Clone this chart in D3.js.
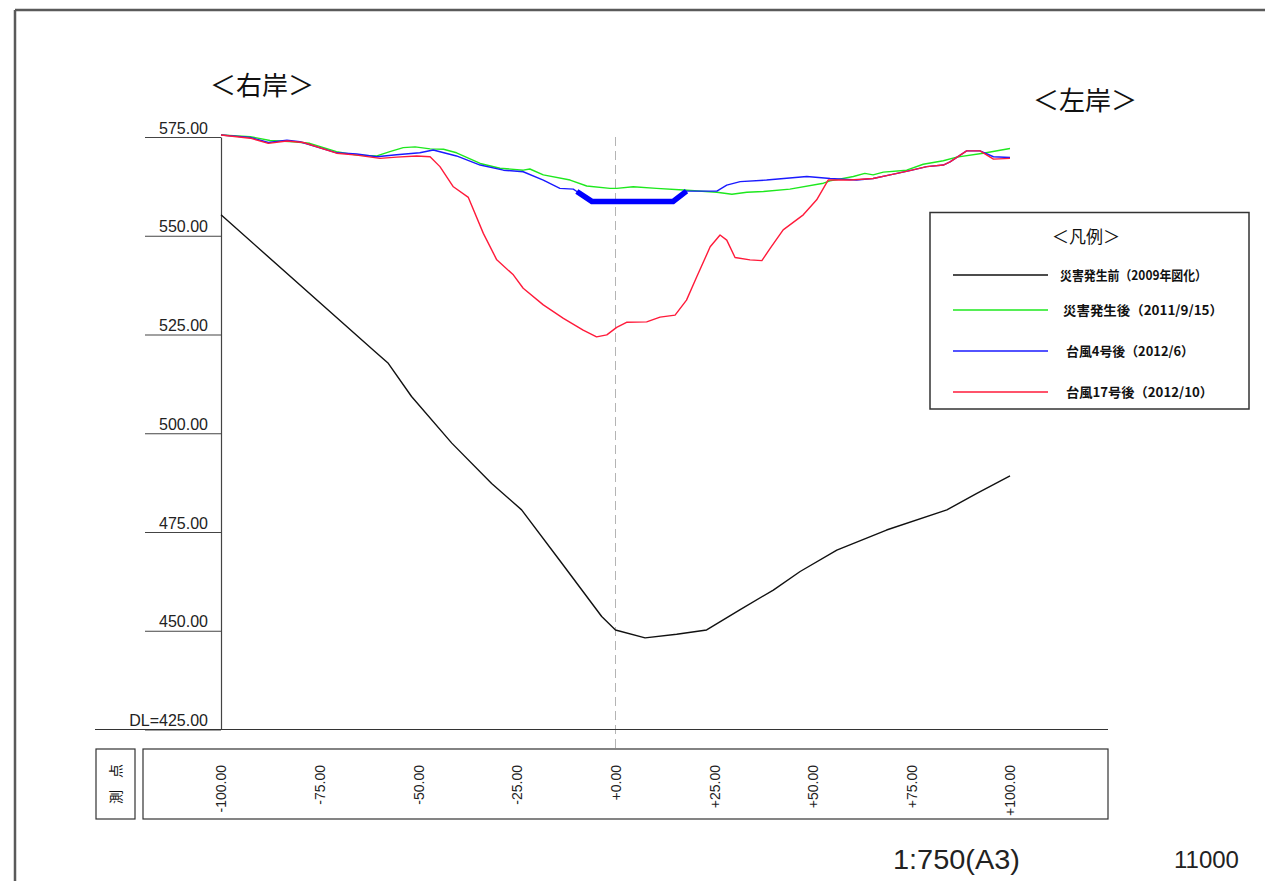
<!DOCTYPE html>
<html lang="ja">
<head>
<meta charset="utf-8">
<script src="https://cdn.jsdelivr.net/npm/d3@7"></script>
<style>
  html, body { margin: 0; padding: 0; background: #fff; }
  svg { display: block; }
  .num { font-family: "Liberation Sans", Arial, sans-serif; fill: #222; }
  .jp { font-family: "Noto Sans CJK JP", "Noto Sans", sans-serif; fill: #111; }
</style>
</head>
<body>
<svg id="chart" width="1265" height="881"></svg>
<script>
// 測点 (m) と標高 (m)
const stations = [-100, -75, -50, -25, 0, 25, 50, 75, 100];
const elevTicks = [575, 550, 525, 500, 475, 450, 425];

// 横断形状 [測点, 標高]
const before2009 = [
  [-100, 555.3], [-61, 520.7], [-57.6, 517.7], [-51.7, 509.3], [-41.5, 497.5],
  [-31.4, 487.3], [-23.8, 480.6], [-13.6, 467.1], [-3.5, 453.6], [0, 450.2],
  [7.5, 448.2], [15.5, 449.1], [23.1, 450.2], [31.5, 455.3], [40, 460.3],
  [46.8, 465.0], [56.1, 470.4], [68.7, 475.5], [84, 480.6], [91.6, 484.8], [100, 489.2]
];

const after2011 = [
  [-100, 575.5], [-92.6, 575.1], [-87.6, 574.1], [-81.7, 573.8], [-77.5, 573.4],
  [-70.7, 571.3], [-65.6, 570.4], [-60.5, 570.2], [-57.2, 571.3], [-53.8, 572.3],
  [-50.8, 572.5], [-47.0, 572.0], [-43.6, 571.9], [-40.3, 571.0], [-34.3, 568.3],
  [-29.3, 567.1], [-23.4, 566.6], [-21.7, 566.9], [-18.3, 565.4], [-11.5, 564.1],
  [-7.3, 562.6], [-1.4, 562.0], [0.3, 562.0], [4.5, 562.4], [10.4, 562.0],
  [17.2, 561.6], [25.7, 561.0], [29.5, 560.5], [33.3, 561.0], [37.5, 561.2],
  [44.2, 561.8], [52.7, 563.3], [54.4, 563.9], [60.3, 565.0], [63.2, 565.8],
  [65.3, 565.4], [67.9, 566.1], [73.8, 566.6], [78.0, 568.1], [83.1, 569.0],
  [86.5, 569.9], [93.2, 570.9], [100, 572.1]
];

const typhoon4 = [
  [-100, 575.5], [-92.6, 574.9], [-88.0, 573.6], [-83.3, 574.2], [-80.0, 573.8],
  [-70.7, 571.0], [-65.6, 570.7], [-60.5, 570.0], [-55.5, 570.5], [-49.6, 571.0],
  [-46.2, 571.7], [-40.3, 570.2], [-34.3, 567.9], [-28.4, 566.6], [-23.4, 566.2],
  [-18.3, 564.1], [-14.1, 562.0], [-10.7, 561.8], [-9.8, 561.2], [-6.0, 558.7],
  [14.6, 558.7], [18.0, 561.3], [25.7, 561.3], [28.2, 562.8], [31.6, 563.7],
  [38.3, 564.1], [48.5, 565.0], [54.4, 564.5], [61.1, 564.1], [65.3, 564.5],
  [69.6, 565.4], [74.6, 566.5], [78.9, 567.5], [83.1, 567.9], [84.8, 568.7],
  [89.0, 571.5], [92.4, 571.5], [95.8, 570.0], [100, 569.8]
];

// 台風4号後の河床部（太線）
const typhoon4Bed = [[-9.8, 561.2], [-6.0, 558.7], [14.6, 558.7], [18.0, 561.3]];

const typhoon17 = [
  [-100, 575.5], [-92.6, 574.7], [-88.0, 573.4], [-83.3, 574.0], [-79.1, 573.6],
  [-70.7, 570.9], [-65.6, 570.4], [-59.7, 569.6], [-55.5, 569.9], [-50.4, 570.2],
  [-47.0, 570.0], [-44.5, 567.5], [-41.1, 562.4], [-37.3, 559.7], [-33.5, 550.6],
  [-30.1, 543.9], [-25.9, 540.1], [-23.4, 536.7], [-18.3, 532.5], [-13.2, 529.1],
  [-8.2, 526.1], [-4.8, 524.4], [-2.2, 524.9], [0.3, 526.8], [2.8, 528.1],
  [7.9, 528.2], [11.3, 529.4], [15.1, 529.9], [18.0, 533.7], [20.6, 539.6],
  [24.0, 547.2], [26.5, 550.2], [28.2, 548.9], [30.3, 544.5], [34.1, 543.9],
  [37.1, 543.7], [39.2, 546.8], [42.5, 551.5], [47.6, 555.3], [51.0, 559.1],
  [53.9, 564.1], [59.4, 564.1], [65.3, 564.5], [69.6, 565.4], [74.6, 566.5],
  [78.9, 567.5], [83.1, 567.9], [84.8, 568.7], [89.0, 571.5], [92.4, 571.5],
  [95.8, 569.4], [100, 569.6]
];

const legendLabels = [
  "災害発生前（2009年図化）",
  "災害発生後（2011/9/15）",
  "台風4号後（2012/6）",
  "台風17号後（2012/10）"
];

const seriesColors = ["#111111", "#1ee81e", "#1a1aff", "#ff1a3a"];

const svg = d3.select("#chart");

// 図枠
svg.append("line").attr("x1", 15).attr("y1", 10).attr("x2", 1265).attr("y2", 10)
  .attr("stroke", "#5a5a5a").attr("stroke-width", 2.5);
svg.append("line").attr("x1", 15).attr("y1", 10).attr("x2", 15).attr("y2", 881)
  .attr("stroke", "#5a5a5a").attr("stroke-width", 2.5);

const x = d3.scaleLinear().domain([-100, 100]).range([221, 1010]);
const y = d3.scaleLinear().domain([425, 575]).range([729.5, 137]);

// 中心線
svg.append("line")
  .attr("x1", x(0)).attr("x2", x(0))
  .attr("y1", y(575)).attr("y2", 749)
  .attr("stroke", "#b4b4b4").attr("stroke-width", 1)
  .attr("stroke-dasharray", "9,5");

// 標高軸
const yAxis = d3.axisLeft(y)
  .tickValues(elevTicks)
  .tickSize(76)
  .tickSizeOuter(0)
  .tickFormat(d => d === 425 ? "DL=" + d.toFixed(2) : d.toFixed(2));

const yg = svg.append("g").attr("transform", `translate(${x(-100)},0)`).call(yAxis);
yg.select(".domain").attr("stroke", "#444").attr("stroke-width", 1.2);
yg.selectAll(".tick line").attr("stroke", "#444").attr("stroke-width", 1.2);
yg.selectAll(".tick text")
  .attr("class", "num")
  .attr("x", -13)
  .attr("dy", "-4")
  .attr("font-size", 16)
  .attr("font-family", "Liberation Sans, Arial, sans-serif")
  .attr("fill", "#222");

// 基準線 (DL)
svg.append("line")
  .attr("x1", 95).attr("x2", 1108)
  .attr("y1", y(425)).attr("y2", y(425))
  .attr("stroke", "#333").attr("stroke-width", 1.2);

// 測点欄
svg.append("rect").attr("x", 96).attr("y", 749).attr("width", 39).attr("height", 70)
  .attr("fill", "none").attr("stroke", "#333").attr("stroke-width", 1.2);
svg.append("rect").attr("x", 143).attr("y", 749).attr("width", 965).attr("height", 70)
  .attr("fill", "none").attr("stroke", "#333").attr("stroke-width", 1.2);

svg.append("text")
  .attr("class", "jp")
  .attr("transform", "translate(116,784) rotate(-90)")
  .attr("text-anchor", "middle")
  .attr("dy", "0.36em")
  .attr("font-size", 14)
  .attr("letter-spacing", 12)
  .attr("dx", 6)
  .text("測点");

const xAxis = d3.axisBottom(x)
  .tickValues(stations)
  .tickSize(0)
  .tickFormat(d => (d < 0 ? "" : "+") + d.toFixed(2));

const xg = svg.append("g").attr("transform", "translate(0,765)").call(xAxis);
xg.select(".domain").remove();
xg.selectAll(".tick text")
  .attr("transform", "rotate(-90)")
  .attr("text-anchor", "end")
  .attr("x", 0)
  .attr("y", 0)
  .attr("dy", "0.35em")
  .attr("font-size", 14)
  .attr("font-family", "Liberation Sans, Arial, sans-serif")
  .attr("fill", "#222");

// 横断線
const line = d3.line().x(d => x(d[0])).y(d => y(d[1]));
const series = [before2009, after2011, typhoon4, typhoon17];

svg.append("g")
  .selectAll("path")
  .data(series)
  .join("path")
  .attr("d", line)
  .attr("fill", "none")
  .attr("stroke", (d, i) => seriesColors[i])
  .attr("stroke-width", 1.4)
  .attr("stroke-linejoin", "round");

svg.append("path")
  .datum(typhoon4Bed)
  .attr("d", line)
  .attr("fill", "none")
  .attr("stroke", "#0000ff")
  .attr("stroke-width", 5.5)
  .attr("stroke-linejoin", "miter");

// 右岸・左岸
svg.append("text").attr("class", "jp").attr("x", 210).attr("y", 95)
  .attr("font-size", 26).text("＜右岸＞");
svg.append("text").attr("class", "jp").attr("x", 1033).attr("y", 110)
  .attr("font-size", 26).text("＜左岸＞");

// 凡例
const lg = svg.append("g");
lg.append("rect").attr("x", 930).attr("y", 212.5).attr("width", 319).attr("height", 196.5)
  .attr("fill", "#fff").attr("stroke", "#333").attr("stroke-width", 1.5);
lg.append("text").attr("class", "jp").attr("x", 1086).attr("y", 243)
  .attr("text-anchor", "middle").attr("font-size", 17).text("＜凡例＞");

const legendRowY = [275, 310, 351, 392];
const legendTextX = [1060, 1063, 1066, 1066];
const legendTextW = [147, 160, 128, 147];

const rows = lg.selectAll("g.row")
  .data(legendLabels)
  .join("g")
  .attr("class", "row");

rows.append("line")
  .attr("x1", 953).attr("x2", 1048)
  .attr("y1", (d, i) => legendRowY[i]).attr("y2", (d, i) => legendRowY[i])
  .attr("stroke", (d, i) => seriesColors[i])
  .attr("stroke-width", 1.3);

rows.append("text")
  .attr("class", "jp")
  .attr("x", (d, i) => legendTextX[i])
  .attr("y", (d, i) => legendRowY[i] + 5)
  .attr("font-size", 13)
  .attr("font-weight", 700)
  .attr("textLength", (d, i) => legendTextW[i])
  .attr("lengthAdjust", "spacingAndGlyphs")
  .text(d => d);

// 縮尺・番号
svg.append("text").attr("class", "num").attr("x", 893).attr("y", 869)
  .attr("font-size", 28).attr("textLength", 127).attr("lengthAdjust", "spacingAndGlyphs")
  .text("1:750(A3)");
svg.append("text").attr("class", "num").attr("x", 1174).attr("y", 868)
  .attr("font-size", 24).text("11000");
</script>
</body>
</html>
